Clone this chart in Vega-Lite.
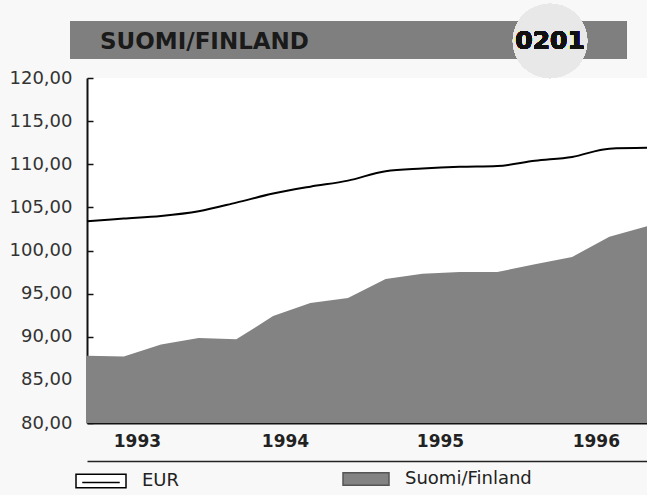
{
  "$schema": "https://vega.github.io/schema/vega-lite/v6.json",
  "width": 560,
  "height": 345,
  "autosize": {"type": "none"},
  "padding": {"left": 87, "top": 78, "right": 0, "bottom": 72},
  "background": "#f8f8f8",
  "config": {
    "view": {"fill": "white", "stroke": null},
    "font": "DejaVu Sans"
  },
  "title": {
    "text": "SUOMI/FINLAND",
    "anchor": "start",
    "frame": "group",
    "orient": "top",
    "offset": -50,
    "dx": 13,
    "zindex": 2,
    "font": "DejaVu Sans",
    "fontSize": 23,
    "fontWeight": "bold",
    "color": "#1a1a1a"
  },
  "data": {
    "values": [
      {"series": "EUR", "date": "1993-01-01", "value": 103.4},
      {"series": "EUR", "date": "1993-04-01", "value": 103.7},
      {"series": "EUR", "date": "1993-07-01", "value": 104.0},
      {"series": "EUR", "date": "1993-10-01", "value": 104.55},
      {"series": "EUR", "date": "1994-01-01", "value": 105.55},
      {"series": "EUR", "date": "1994-04-01", "value": 106.6},
      {"series": "EUR", "date": "1994-07-01", "value": 107.4},
      {"series": "EUR", "date": "1994-10-01", "value": 108.1},
      {"series": "EUR", "date": "1995-01-01", "value": 109.2},
      {"series": "EUR", "date": "1995-04-01", "value": 109.5},
      {"series": "EUR", "date": "1995-07-01", "value": 109.7},
      {"series": "EUR", "date": "1995-10-01", "value": 109.8},
      {"series": "EUR", "date": "1996-01-01", "value": 110.4},
      {"series": "EUR", "date": "1996-04-01", "value": 110.85},
      {"series": "EUR", "date": "1996-07-01", "value": 111.8},
      {"series": "EUR", "date": "1996-10-01", "value": 111.9},
      {"series": "Suomi/Finland", "date": "1993-01-01", "value": 87.8},
      {"series": "Suomi/Finland", "date": "1993-04-01", "value": 87.7},
      {"series": "Suomi/Finland", "date": "1993-07-01", "value": 89.1},
      {"series": "Suomi/Finland", "date": "1993-10-01", "value": 89.85},
      {"series": "Suomi/Finland", "date": "1994-01-01", "value": 89.7},
      {"series": "Suomi/Finland", "date": "1994-04-01", "value": 92.4},
      {"series": "Suomi/Finland", "date": "1994-07-01", "value": 93.9},
      {"series": "Suomi/Finland", "date": "1994-10-01", "value": 94.5},
      {"series": "Suomi/Finland", "date": "1995-01-01", "value": 96.7},
      {"series": "Suomi/Finland", "date": "1995-04-01", "value": 97.3},
      {"series": "Suomi/Finland", "date": "1995-07-01", "value": 97.5},
      {"series": "Suomi/Finland", "date": "1995-10-01", "value": 97.5},
      {"series": "Suomi/Finland", "date": "1996-01-01", "value": 98.4},
      {"series": "Suomi/Finland", "date": "1996-04-01", "value": 99.25},
      {"series": "Suomi/Finland", "date": "1996-07-01", "value": 101.6},
      {"series": "Suomi/Finland", "date": "1996-10-01", "value": 102.8}
    ]
  },
  "resolve": {"axis": {"x": "independent", "y": "independent"}},
  "layer": [
    {
      "mark": {"type": "rect", "clip": false, "color": "#7f7f7f"},
      "encoding": {
        "x": {"datum": {"year": 1992, "month": 11, "date": 21, "utc": true}, "type": "temporal", "scale": {"type": "utc", "domain": [{"year": 1993, "month": 1, "date": 1, "utc": true}, {"year": 1996, "month": 10, "date": 1, "utc": true}]}, "axis": null},
        "x2": {"datum": {"year": 1996, "month": 8, "date": 11, "utc": true}},
        "y": {"datum": 122.2, "type": "quantitative", "scale": {"domain": [80, 120], "nice": false, "zero": false}, "axis": null},
        "y2": {"datum": 126.6}
      }
    },
    {
      "mark": {"type": "point", "shape": "circle", "filled": true, "clip": false, "color": "#e8e8e8", "opacity": 1, "size": 5540},
      "encoding": {
        "x": {"datum": {"year": 1996, "month": 2, "date": 7, "utc": true}, "type": "temporal", "axis": null},
        "y": {"datum": 124.3, "type": "quantitative", "axis": null}
      }
    },
    {
      "mark": {"type": "text", "clip": false, "text": "0201", "font": "DejaVu Sans", "fontSize": 25, "fontWeight": "bold", "color": "#111", "baseline": "middle", "align": "center"},
      "encoding": {
        "x": {"datum": {"year": 1996, "month": 2, "date": 7, "utc": true}, "type": "temporal", "axis": null},
        "y": {"datum": 124.3, "type": "quantitative", "axis": null}
      }
    },
    {
      "transform": [{"filter": "datum.series === 'Suomi/Finland'"}],
      "mark": {"type": "area", "interpolate": "linear"},
      "encoding": {
        "x": {
          "field": "date", "type": "temporal",
          "axis": {
            "orient": "bottom",
            "values": [{"year": 1994, "month": 1, "date": 1, "utc": true}, {"year": 1995, "month": 1, "date": 1, "utc": true}, {"year": 1996, "month": 1, "date": 1, "utc": true}],
            "labels": false, "title": null, "grid": false,
            "domainColor": "#111", "domainWidth": 2,
            "tickColor": "#111", "tickWidth": 1.5, "tickSize": -6
          }
        },
        "y": {
          "field": "value", "type": "quantitative",
          "axis": {
            "orient": "left",
            "values": [80, 85, 90, 95, 100, 105, 110, 115, 120],
            "labelExpr": "replace(format(datum.value, '.2f'), '.', ',')",
            "title": null, "grid": false,
            "domainColor": "#111", "domainWidth": 2,
            "tickColor": "#111", "tickWidth": 1.5, "tickSize": -6,
            "labelFont": "DejaVu Sans", "labelFontSize": 18, "labelColor": "#333",
            "labelPadding": 21
          }
        },
        "y2": {"datum": 80},
        "fill": {
          "field": "series", "type": "nominal",
          "scale": {"domain": ["Suomi/Finland"], "range": ["#838383"]},
          "legend": {
            "orient": "none", "legendX": 255, "legendY": 377,
            "title": null, "padding": 0,
            "symbolType": "M-1,-0.27H1V0.27H-1Z",
            "symbolSize": 2116,
            "symbolStrokeColor": "#555", "symbolStrokeWidth": 1.5,
            "labelFont": "DejaVu Sans", "labelFontSize": 18, "labelColor": "#222", "labelOffset": 15
          }
        }
      }
    },
    {
      "transform": [{"filter": "datum.series === 'EUR'"}],
      "mark": {"type": "line", "interpolate": "monotone", "strokeWidth": 2},
      "encoding": {
        "x": {
          "field": "date", "type": "temporal",
          "axis": {
            "orient": "bottom",
            "values": [{"year": 1993, "month": 5, "date": 3, "utc": true}, {"year": 1994, "month": 4, "date": 30, "utc": true}, {"year": 1995, "month": 5, "date": 14, "utc": true}, {"year": 1996, "month": 5, "date": 29, "utc": true}],
            "labelExpr": "utcFormat(datum.value, '%Y')",
            "offset": 38, "ticks": false, "tickSize": 0,
            "labelPadding": -20, "labelBaseline": "middle", "labelFlush": false,
            "labelFont": "DejaVu Sans", "labelFontSize": 17, "labelFontWeight": "bold", "labelColor": "#222",
            "title": null, "grid": false,
            "domainColor": "#222", "domainWidth": 1.5
          }
        },
        "y": {"field": "value", "type": "quantitative", "axis": null},
        "stroke": {
          "field": "series", "type": "nominal",
          "scale": {"domain": ["EUR"], "range": ["black"]},
          "legend": {
            "orient": "none", "legendX": -12, "legendY": 377,
            "title": null, "padding": 0,
            "symbolType": "M-1,-0.27H1V0.27H-1Z M-0.75,0.06H0.75",
            "symbolSize": 2500,
            "symbolFillColor": "white", "symbolStrokeWidth": 1.5,
            "labelFont": "DejaVu Sans", "labelFontSize": 18, "labelColor": "#222", "labelOffset": 15
          }
        }
      }
    }
  ]
}
